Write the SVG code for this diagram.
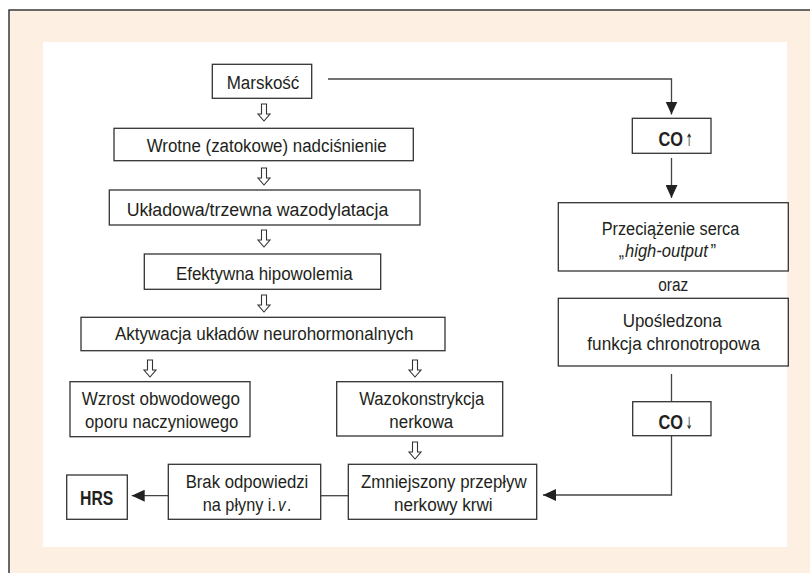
<svg xmlns="http://www.w3.org/2000/svg" width="810" height="573" viewBox="0 0 810 573">
<defs>
<style>
.box{fill:#fff;stroke:#333;stroke-width:1.3}
.t{font-family:"Liberation Sans",Arial,sans-serif;font-size:18px;fill:#231f20;text-anchor:middle}
.s{font-family:"Liberation Sans",Arial,sans-serif;font-size:18px;fill:#231f20}
.i{font-style:italic}
.b{font-family:"Liberation Sans",Arial,sans-serif;font-size:21px;font-weight:bold;fill:#231f20}
.ar{font-family:"DejaVu Sans",sans-serif;font-size:17px;fill:#231f20}
.ln{fill:none;stroke:#444;stroke-width:1.3}
.ho{fill:#fff;stroke:#333;stroke-width:1.1}
</style>
<marker id="ah" markerUnits="userSpaceOnUse" markerWidth="13" markerHeight="12" refX="13" refY="6" orient="auto">
<path d="M0,0 L13,6 L0,12 z" fill="#222"/>
</marker>
<path id="hollow" d="M-2.5,0 H2.5 V10 H6 L0,17 L-6,10 H-2.5 Z"/>
</defs>
<rect x="0" y="0" width="810" height="573" fill="#fff"/>
<rect x="9" y="10" width="810" height="580" fill="#fdefe2" stroke="#3a3a3a" stroke-width="1.5"/>
<rect x="43" y="42" width="744" height="505" fill="#fff"/>

<g id="connectors">
<path class="ln" d="M328,79 H671.5 V114.5" marker-end="url(#ah)"/>
<path class="ln" d="M671.5,158 V198" marker-end="url(#ah)"/>
<path class="ln" d="M671.5,374 V401.7"/>
<path class="ln" d="M671.5,435.7 V495 H543" marker-end="url(#ah)"/>
<path class="ln" d="M348.3,495.7 H320.7"/>
<path class="ln" d="M168.3,495.7 H131.7" marker-end="url(#ah)"/>
<use href="#hollow" class="ho" x="264" y="104"/>
<use href="#hollow" class="ho" x="264" y="168"/>
<use href="#hollow" class="ho" x="264" y="230"/>
<use href="#hollow" class="ho" x="264" y="295"/>
<use href="#hollow" class="ho" x="150" y="360"/>
<use href="#hollow" class="ho" x="415" y="360"/>
<use href="#hollow" class="ho" x="415" y="442"/>
</g>

<g id="marskosc">
<rect class="box" x="212.3" y="64.3" width="99.4" height="34"/>
<text class="t" x="263" y="89" textLength="72.7" lengthAdjust="spacingAndGlyphs">Marskość</text>
</g>
<g id="wrotne">
<rect class="box" x="114" y="128.3" width="299.3" height="32.4"/>
<text class="t" x="266.7" y="151.5" textLength="240" lengthAdjust="spacingAndGlyphs">Wrotne (zatokowe) nadciśnienie</text>
</g>
<g id="ukladowa">
<rect class="box" x="109.3" y="190" width="310.7" height="35"/>
<text class="t" x="257.5" y="215.5" textLength="261.7" lengthAdjust="spacingAndGlyphs">Układowa/trzewna wazodylatacja</text>
</g>
<g id="efektywna">
<rect class="box" x="144.3" y="254" width="236.4" height="35.3"/>
<text class="t" x="264.3" y="280" textLength="176.7" lengthAdjust="spacingAndGlyphs">Efektywna hipowolemia</text>
</g>
<g id="aktywacja">
<rect class="box" x="81" y="317.3" width="364" height="33.4"/>
<text class="t" x="264.2" y="340" textLength="298.3" lengthAdjust="spacingAndGlyphs">Aktywacja układów neurohormonalnych</text>
</g>
<g id="wzrost">
<rect class="box" x="70" y="381.7" width="180" height="55"/>
<text class="t" x="160.8" y="405" textLength="158.3" lengthAdjust="spacingAndGlyphs">Wzrost obwodowego</text>
<text class="t" x="161.7" y="427.5" textLength="153.3" lengthAdjust="spacingAndGlyphs">oporu naczyniowego</text>
</g>
<g id="wazokonstrykcja">
<rect class="box" x="336.7" y="381.7" width="166" height="54.3"/>
<text class="t" x="421.8" y="405" textLength="125" lengthAdjust="spacingAndGlyphs">Wazokonstrykcja</text>
<text class="t" x="421.3" y="427.5" textLength="64" lengthAdjust="spacingAndGlyphs">nerkowa</text>
</g>
<g id="zmniejszony">
<rect class="box" x="348.3" y="464.3" width="188.4" height="55"/>
<text class="t" x="443.8" y="488" textLength="165.7" lengthAdjust="spacingAndGlyphs">Zmniejszony przepływ</text>
<text class="t" x="443.3" y="511" textLength="98.7" lengthAdjust="spacingAndGlyphs">nerkowy krwi</text>
</g>
<g id="brak">
<rect class="box" x="168.3" y="464.3" width="152.4" height="55"/>
<text class="t" x="247" y="488" textLength="122.7" lengthAdjust="spacingAndGlyphs">Brak odpowiedzi</text>
<text class="s" transform="translate(202.7,511) scale(0.905,1)">na płyny i.</text>
<text class="s i" transform="translate(278,511) scale(0.84,1)">v</text>
<text class="s" transform="translate(287,511) scale(0.84,1)">.</text>
</g>
<g id="hrs">
<rect class="box" x="66.7" y="475" width="60.6" height="44.3"/>
<text class="b" x="80" y="505" textLength="33.3" lengthAdjust="spacingAndGlyphs">HRS</text>
</g>
<g id="co-up">
<rect class="box" x="632.3" y="118.3" width="78.7" height="35"/>
<text class="b" transform="translate(658.5,146) scale(0.78,1)">CO</text>
<text class="ar" transform="translate(685.5,146) scale(0.5,1)">↑</text>
</g>
<g id="przeciazenie">
<rect class="box" x="558.3" y="202.7" width="230" height="68.3"/>
<text class="t" x="670.5" y="234.5" textLength="137.7" lengthAdjust="spacingAndGlyphs">Przeciążenie serca</text>
<text class="s" transform="translate(618.8,257) scale(0.87,1)">„</text>
<text class="s i" transform="translate(625,257) scale(0.92,1)">high-output</text>
<text class="s" transform="translate(710.5,257) scale(0.93,1)">”</text>
</g>
<text class="t" x="673.3" y="291" textLength="30" lengthAdjust="spacingAndGlyphs">oraz</text>
<g id="uposledzona">
<rect class="box" x="558.3" y="298.3" width="230" height="67.7"/>
<text class="t" x="672.2" y="327" textLength="99" lengthAdjust="spacingAndGlyphs">Upośledzona</text>
<text class="t" x="673.7" y="349.5" textLength="172.7" lengthAdjust="spacingAndGlyphs">funkcja chronotropowa</text>
</g>
<g id="co-down">
<rect class="box" x="632.7" y="401.7" width="78.3" height="34"/>
<text class="b" transform="translate(658.5,428.5) scale(0.78,1)">CO</text>
<text class="ar" transform="translate(685.5,428.5) scale(0.5,1)">↓</text>
</g>
</svg>
